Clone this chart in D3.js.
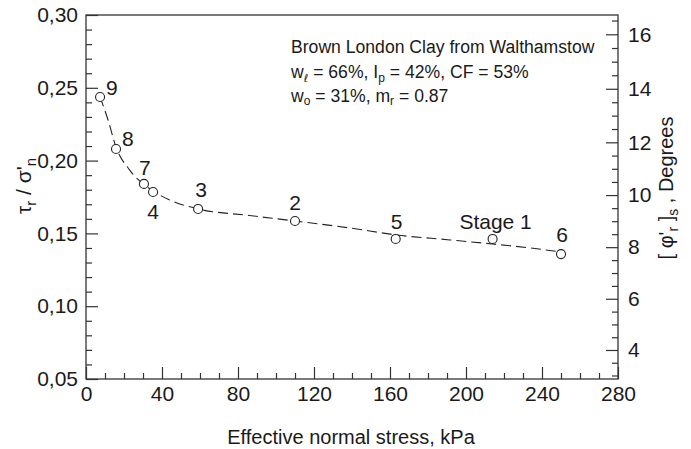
<!DOCTYPE html>
<html><head><meta charset="utf-8">
<script src="https://cdn.jsdelivr.net/npm/d3@7"></script>
<style>
body{margin:0;background:#fff;}
text{font-family:Arial,"Liberation Sans",sans-serif;fill:#1a1a1a;}
</style></head>
<body>
<svg id="c" width="691" height="449"></svg>
<script>
// Data points
const stressPts = [7.4, 15.8, 30.5, 35.3, 59, 110, 163, 214, 250];
const ratioPts  = [0.2437, 0.208, 0.184, 0.1784, 0.1668, 0.1585, 0.1462, 0.1462, 0.1358];
const ptLabels  = ["9", "8", "7", "4", "3", "2", "5", "Stage 1", "6"];
// Fitted (dashed) curve
const fitStress = [7.4, 11.6, 15.8, 23, 33, 44, 59, 86, 110, 139, 163, 191.6, 214, 233.7, 250];
const fitRatio  = [0.2437, 0.2279, 0.2093, 0.1935, 0.1812, 0.173, 0.1668, 0.1623, 0.1585, 0.1537, 0.149, 0.1455, 0.1427, 0.140, 0.1372];
// Ticks
const xMajor = [0, 40, 80, 120, 160, 200, 240, 280];
const yMajor = [0.05, 0.10, 0.15, 0.20, 0.25, 0.30];
const degMajor = [4, 6, 8, 10, 12, 14, 16];

const svg = d3.select("#c");
const L = 86, R = 618, T = 15, B = 379;
const x = d3.scaleLinear().domain([0, 280]).range([L, R]);
const y = d3.scaleLinear().domain([0.05, 0.30]).range([B, T]);
const rad = Math.PI / 180;

const stroke = "#333";
// Frame
svg.append("rect").attr("x", L).attr("y", T).attr("width", R - L).attr("height", B - T)
  .attr("fill", "none").attr("stroke", stroke).attr("stroke-width", 1.3);

function styleAxis(g) {
  g.select(".domain").remove();
  g.selectAll("line").attr("stroke", stroke).attr("stroke-width", 1.2);
  g.selectAll("text").attr("fill", "#1a1a1a").style("font-size", "21px")
    .style("font-family", "Arial, 'Liberation Sans', sans-serif");
}

// X axis
const xMinor = d3.range(0, 281, 10).filter(v => v % 40 !== 0);
svg.append("g").attr("transform", `translate(0,${B})`)
  .call(d3.axisBottom(x).tickValues(xMinor).tickSize(-6).tickFormat("")).call(styleAxis);
svg.append("g").attr("transform", `translate(0,${B})`)
  .call(d3.axisBottom(x).tickValues(xMajor).tickSize(-12).tickPadding(7).tickFormat(d3.format("d"))).call(styleAxis);

// Left Y axis
const yMinor = d3.range(6, 30).filter(v => v % 5 !== 0).map(v => v / 100);
svg.append("g").attr("transform", `translate(${L},0)`)
  .call(d3.axisLeft(y).tickValues(yMinor).tickSize(-6).tickFormat("")).call(styleAxis);
svg.append("g").attr("transform", `translate(${L},0)`)
  .call(d3.axisLeft(y).tickValues(yMajor).tickSize(-12).tickPadding(8)
    .tickFormat(d => d3.format(".2f")(d).replace(".", ","))).call(styleAxis);

// Right axis in degrees (tan mapping)
const degMinor = d3.range(3, 16.6, 0.5).filter(d => d % 2 !== 0);
svg.append("g").attr("transform", `translate(${R},0)`)
  .call(d3.axisRight(y).tickValues(degMinor.map(d => Math.tan(d * rad))).tickSize(-6).tickFormat("")).call(styleAxis);
svg.append("g").attr("transform", `translate(${R},0)`)
  .call(d3.axisRight(y).tickValues(degMajor.map(d => Math.tan(d * rad))).tickSize(-12).tickPadding(10)
    .tickFormat(v => Math.round(Math.atan(v) / rad))).call(styleAxis);

// Fitted dashed curve
const fit = fitStress.map((s, i) => [s, fitRatio[i]]);
svg.append("path").datum(fit)
  .attr("d", d3.line().x(d => x(d[0])).y(d => y(d[1])).curve(d3.curveMonotoneX))
  .attr("fill", "none").attr("stroke", "#222").attr("stroke-width", 1.1)
  .attr("stroke-dasharray", "10,5");

// Points
const pts = stressPts.map((s, i) => ({s, r: ratioPts[i], lab: ptLabels[i]}));
svg.selectAll("circle.pt").data(pts).join("circle")
  .attr("cx", d => x(d.s)).attr("cy", d => y(d.r)).attr("r", 4.5)
  .attr("fill", "#fff").attr("stroke", "#222").attr("stroke-width", 1.1);

// Point labels (offsets)
const offs = {"9": [6, -2, "start"], "8": [6, -3, "start"], "7": [1, -9, "middle"], "4": [0, 27, "middle"],
  "3": [3, -12, "middle"], "2": [0, -11, "middle"], "5": [1, -10, "middle"], "Stage 1": [3, -10, "middle"], "6": [1, -12, "middle"]};
svg.selectAll("text.pl").data(pts).join("text")
  .attr("x", d => x(d.s) + offs[d.lab][0]).attr("y", d => y(d.r) + offs[d.lab][1])
  .attr("text-anchor", d => offs[d.lab][2]).style("font-size", "21px").text(d => d.lab);

// Annotation
const ann = svg.append("g").style("font-size", "17.6px");
ann.append("text").attr("x", 291).attr("y", 53).text("Brown London Clay from Walthamstow");
const t2 = ann.append("text").attr("x", 291).attr("y", 78);
t2.append("tspan").text("w");
t2.append("tspan").attr("dy", 4).style("font-size", "11px").style("font-family", "'DejaVu Sans', sans-serif").text("ℓ");
t2.append("tspan").attr("dy", -4).text(" = 66%, I");
t2.append("tspan").attr("dy", 4).style("font-size", "12px").text("p");
t2.append("tspan").attr("dy", -4).text(" = 42%, CF = 53%");
const t3 = ann.append("text").attr("x", 291).attr("y", 102);
t3.append("tspan").text("w");
t3.append("tspan").attr("dy", 3).style("font-size", "12px").text("o");
t3.append("tspan").attr("dy", -3).text(" = 31%, m");
t3.append("tspan").attr("dy", 3).style("font-size", "12px").text("r");
t3.append("tspan").attr("dy", -3).text(" = 0.87");

// Axis titles
svg.append("text").attr("x", 351).attr("y", 444).attr("text-anchor", "middle")
  .style("font-size", "20px").text("Effective normal stress, kPa");

const yl = svg.append("text").attr("transform", "translate(31,186) rotate(-90)").attr("text-anchor", "middle")
  .style("font-size", "21px");
yl.append("tspan").text("τ");
yl.append("tspan").attr("dy", 5).style("font-size", "15px").text("r");
yl.append("tspan").attr("dy", -5).text(" / σ'");
yl.append("tspan").attr("dy", 5).style("font-size", "15px").text("n");

const yr = svg.append("text").attr("transform", "translate(673,188) rotate(-90)").attr("text-anchor", "middle")
  .style("font-size", "20px");
yr.append("tspan").text("[ φ'");
yr.append("tspan").attr("dy", 5).style("font-size", "14px").text("r");
yr.append("tspan").attr("dy", -5).text(" ]");
yr.append("tspan").attr("dy", 5).style("font-size", "14px").text("s");
yr.append("tspan").attr("dy", -5).text(" ,  Degrees");
</script>
</body></html>
